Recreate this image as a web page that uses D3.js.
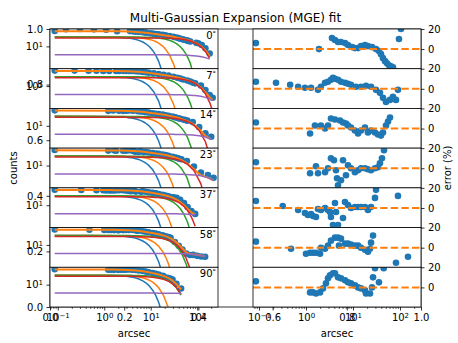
<!DOCTYPE html>
<html>
<head>
<meta charset="utf-8">
<script src="https://cdn.jsdelivr.net/npm/d3@7"></script>
<style>
  body { margin: 0; background: #fff; }
  text { font-family: "DejaVu Sans", sans-serif; }
</style>
</head>
<body>
<svg id="chart" width="458" height="343"></svg>
<script>
// sector angles (deg), one row of panels each
const sectorAngles = [0, 7, 14, 23, 37, 58, 90];

// radii (arcsec) of the measured points in each sector
const sectorRadii = [
  [0.086, 0.15, 0.3, 0.6, 1.1, 1.89, 3.57, 4.14, 4.80, 5.55, 6.76, 7.83, 9.52, 11.0, 12.8, 14.8, 18.0, 20.8, 25.4, 30.9, 35.7, 39.4, 43.5, 48.0, 52.9, 58.3, 64.4, 71.0, 95.2, 105, 125, 150, 185],
  [0.086, 0.23, 0.46, 0.68, 0.95, 1.28, 1.80, 2.08, 2.54, 2.94, 3.40, 3.75, 4.14, 4.80, 5.55, 6.76, 7.83, 9.06, 11.6, 14.8, 18.9, 24.2, 30.9, 37.5, 43.5, 50.4, 61.3, 71.0, 82.2, 90.6, 120, 150, 185, 215],
  [0.086, 1.22, 1.55, 2.08, 2.54, 2.94, 3.40, 4.14, 5.29, 6.13, 7.10, 7.83, 9.06, 11.0, 12.8, 14.8, 18.0, 20.8, 24.2, 29.4, 34.0, 39.4, 43.5, 50.4, 55.6, 61.3, 80, 110, 150, 200],
  [0.086, 1.22, 1.63, 1.80, 2.54, 2.94, 3.40, 3.94, 4.35, 4.57, 4.80, 5.55, 6.13, 7.10, 7.83, 9.06, 11.0, 12.8, 14.8, 18.0, 20.8, 24.2, 29.4, 34.0, 37.5, 41.4, 45.7, 60, 85, 120, 170, 225],
  [0.086, 0.32, 0.68, 0.95, 1.10, 1.28, 1.41, 1.63, 1.80, 2.08, 2.54, 2.94, 3.24, 3.40, 3.75, 4.14, 4.35, 4.80, 6.13, 6.76, 7.83, 9.06, 11.0, 12.8, 14.8, 18.0, 20.8, 24.2, 29.4, 30.9, 36, 43, 52, 62, 75, 90.6],
  [0.086, 0.48, 1.0, 1.22, 1.41, 1.63, 1.99, 2.08, 2.54, 2.94, 3.40, 4.14, 4.80, 5.03, 5.55, 6.76, 7.83, 9.06, 11.0, 12.8, 14.8, 18.0, 20.8, 23.0, 24.2, 26.7, 33, 40, 48, 58, 70, 82.2, 100, 122, 148],
  [0.086, 1.22, 1.41, 1.63, 1.99, 2.30, 2.66, 2.94, 3.24, 3.75, 4.14, 4.80, 5.55, 6.76, 7.83, 9.06, 11.0, 12.8, 14.8, 18.0, 18.9, 23.0, 25.4, 26.7, 29.4, 35.7, 45]
];

// fit error (%) of the same points
const sectorErr = [
  [6, 35, 40, 35, 30, 0, 11, 9, 7, 7, 6, 4, 2, 1, 1, 3, 4, 3, 2, 0, -2, -5, -9, -12, -14, -16, -17, -18, 10, 20, 35, 40, 40],
  [7, 6, 4, 2, 1, 1, -1, 2, 6, 7, 9, 11, 10, 9, 7, 6, 5, 4, 2, 2, 3, 2, -1, -4, -9, -13, -11, -8, -11, -1, 35, 40, 40, 40],
  [6, -5, 3, 3, 0, 3, 10, 9, 8, 6, 5, 3, 1, -2, -5, -2, 1, -4, -2, -4, -6, -7, -4, 3, 7, 11, 35, 40, 45, 45],
  [6, -5, 2, -5, -4, 0, 10, 8, -2, -10, -17, -12, 8, -7, 3, 0, -4, -2, 0, 0, -1, -2, 0, 1, 5, 10, 18, 40, 45, 45, 45, 45],
  [7, 2, -2, -5, -7, -6, -8, -9, -1, -2, 0, -2, -4, -9, -17, 5, -4, -17, -10, 6, 3, 0, 1, 1, 1, 1, -2, 1, 10, 18, 35, 40, 40, 35, 30, 12],
  [6, -1, -6, -5, -5, -5, -6, 0, -1, 2, 7, 10, 10, 2, 9, 4, 4, 3, 2, 2, 0, -2, -4, -1, 5, 12, -30, -35, -30, -35, -30, -15, -30, -30, -9],
  [6, -5, -5, -6, -5, -1, 4, 9, 12, 14, 14, 10, 9, 7, 5, 4, 2, 0, -1, -3, -6, -6, 0, 10, 19, 5, 19]
];

// Gaussian components of the fit: log10 peak counts, sigma (arcsec), axial ratio
const gaussLogPeak = [1.95, 1.95, 1.95, 1.85, 0.15];
const gaussSigma = [4.4, 8.75, 20.3, 60, 131];
const gaussQ = [0.95, 0.70, 0.73, 0.26, 0.95];

const frameTicks = [0, 0.2, 0.4, 0.6, 0.8, 1.0];
const errTicks = [0, 20];
const countTicks = [10];
const radiusTicks = [0.1, 1, 10, 100];

const colors = ["#1f77b4", "#ff7f0e", "#2ca02c", "#d62728", "#9467bd"];

const box = {top: 29, bottom: 307, left: 50, right: 421};
const leftCol = [50, 218], rightCol = [253, 421];
const rowH = (box.bottom - box.top) / sectorAngles.length;

const svg = d3.select("#chart");

const xL = d3.scaleLog().domain([0.068, 280]).range(leftCol);
const xR = d3.scaleLog().domain([0.0745, 280]).range(rightCol);

function gauss(k, r, ang) {
  const t = ang * Math.PI / 180;
  const c = Math.cos(t), s = Math.sin(t), q = gaussQ[k];
  const e = r * r * (c * c + s * s / (q * q)) / (2 * gaussSigma[k] * gaussSigma[k]);
  return Math.pow(10, gaussLogPeak[k]) * Math.exp(-e);
}

function styleAxis(g) {
  g.attr("font-family", "DejaVu Sans, sans-serif").attr("font-size", 10);
  g.select(".domain").remove();
  g.selectAll(".tick line").attr("stroke-width", 0.8);
}

function powLabels(g) {
  g.selectAll(".tick text").each(function(d) {
    const t = d3.select(this);
    const ex = Math.round(Math.log10(d));
    t.text(null);
    t.append("tspan").text("10");
    t.append("tspan").attr("dy", "-0.45em").attr("font-size", 7)
      .text(String(ex).replace("-", "\u2212"));
  });
}

// the big background axes
const bx = d3.scaleLinear().domain([0, 1]).range([box.left, box.right]);
const by = d3.scaleLinear().domain([0, 1]).range([box.bottom, box.top]);

svg.append("rect")
  .attr("x", box.left).attr("y", box.top)
  .attr("width", box.right - box.left).attr("height", box.bottom - box.top)
  .attr("fill", "#fff").attr("stroke", "#000").attr("stroke-width", 0.8);

svg.append("g")
  .attr("transform", "translate(0," + box.bottom + ")")
  .call(d3.axisBottom(bx).tickValues(frameTicks).tickFormat(d3.format(".1f")).tickSize(3.5).tickPadding(3.5))
  .call(styleAxis);

svg.append("g")
  .attr("transform", "translate(" + box.left + ",0)")
  .call(d3.axisLeft(by).tickValues(frameTicks).tickFormat(d3.format(".1f")).tickSize(3.5).tickPadding(3.5))
  .call(styleAxis);

sectorAngles.forEach((ang, j) => {
  const top = box.top + j * rowH, bot = top + rowH;
  const yL = d3.scaleLog().domain([Math.pow(10, -1.25), Math.pow(10, 2.75)]).range([bot, top]);
  const yR = d3.scaleLinear().domain([-19.5, 20]).range([bot, top]);

  const pts = sectorRadii[j].map((r, i) => {
    const comps = gaussLogPeak.map((_, k) => gauss(k, r, ang));
    const model = d3.sum(comps);
    const err = sectorErr[j][i];
    return {r: r, err: err, comps: comps, model: model, counts: model / (1 - err / 100)};
  });

  // ---- left panel: counts
  svg.append("clipPath").attr("id", "clipL" + j)
    .append("rect").attr("x", leftCol[0]).attr("y", top)
    .attr("width", leftCol[1] - leftCol[0]).attr("height", rowH);

  svg.append("rect")
    .attr("x", leftCol[0]).attr("y", top)
    .attr("width", leftCol[1] - leftCol[0]).attr("height", rowH)
    .attr("fill", "#fff");

  const gl = svg.append("g").attr("clip-path", "url(#clipL" + j + ")");

  gl.selectAll("circle").data(pts).join("circle")
    .attr("cx", d => xL(d.r)).attr("cy", d => yL(d.counts))
    .attr("r", 3.3).attr("fill", colors[0]);

  const lineL = d3.line().x(d => xL(d[0])).y(d => yL(Math.max(d[1], 1e-30)));

  gl.append("path")
    .attr("d", lineL(pts.map(d => [d.r, d.model])))
    .attr("fill", "none").attr("stroke", colors[1]).attr("stroke-width", 2);

  gaussLogPeak.forEach((_, k) => {
    gl.append("path")
      .attr("d", lineL(pts.map(d => [d.r, d.comps[k]])))
      .attr("fill", "none").attr("stroke", colors[k]).attr("stroke-width", 1.5);
  });

  svg.append("rect")
    .attr("x", leftCol[0]).attr("y", top)
    .attr("width", leftCol[1] - leftCol[0]).attr("height", rowH)
    .attr("fill", "none").attr("stroke", "#000").attr("stroke-width", 0.8);

  svg.append("g")
    .attr("transform", "translate(" + leftCol[0] + ",0)")
    .call(d3.axisLeft(yL).tickValues(countTicks).tickSize(3.5).tickPadding(3.5))
    .call(styleAxis)
    .call(powLabels);

  const lab = svg.append("text")
    .attr("x", leftCol[1] - 2).attr("y", top + 10)
    .attr("text-anchor", "end").attr("font-size", 10)
    .text(ang);
  lab.append("tspan").attr("font-size", 7).attr("dy", -3).text("\u00b0");

  // ---- right panel: error in percent
  svg.append("clipPath").attr("id", "clipR" + j)
    .append("rect").attr("x", rightCol[0]).attr("y", top)
    .attr("width", rightCol[1] - rightCol[0]).attr("height", rowH);

  svg.append("rect")
    .attr("x", rightCol[0]).attr("y", top)
    .attr("width", rightCol[1] - rightCol[0]).attr("height", rowH)
    .attr("fill", "#fff");

  const gr = svg.append("g").attr("clip-path", "url(#clipR" + j + ")");

  gr.selectAll("circle").data(pts).join("circle")
    .attr("cx", d => xR(d.r)).attr("cy", d => yR(d.err))
    .attr("r", 3.3).attr("fill", colors[0]);

  gr.append("line")
    .attr("x1", rightCol[0]).attr("x2", rightCol[1])
    .attr("y1", yR(0)).attr("y2", yR(0))
    .attr("stroke", colors[1]).attr("stroke-width", 2)
    .attr("stroke-dasharray", "7.4,3.2");

  svg.append("rect")
    .attr("x", rightCol[0]).attr("y", top)
    .attr("width", rightCol[1] - rightCol[0]).attr("height", rowH)
    .attr("fill", "none").attr("stroke", "#000").attr("stroke-width", 0.8);

  svg.append("g")
    .attr("transform", "translate(" + rightCol[1] + ",0)")
    .call(d3.axisRight(yR).tickValues(errTicks).tickFormat(d3.format("d")).tickSize(3.5).tickPadding(3.5))
    .call(styleAxis);
});

// radius axes under the bottom row
[[xL, leftCol], [xR, rightCol]].forEach(([x, col]) => {
  const minor = x.ticks().filter(v => !radiusTicks.includes(v));
  svg.append("g")
    .attr("transform", "translate(0," + box.bottom + ")")
    .call(d3.axisBottom(x).tickValues(minor).tickFormat("").tickSize(2))
    .call(styleAxis)
    .selectAll(".tick line").attr("stroke-width", 0.6);
  svg.append("g")
    .attr("transform", "translate(0," + box.bottom + ")")
    .call(d3.axisBottom(x).tickValues(radiusTicks).tickSize(3.5).tickPadding(3.5))
    .call(styleAxis)
    .call(powLabels);
  svg.append("text")
    .attr("x", (col[0] + col[1]) / 2).attr("y", 337)
    .attr("text-anchor", "middle").attr("font-size", 10)
    .text("arcsec");
});

svg.append("text")
  .attr("transform", "translate(17," + ((box.top + box.bottom) / 2) + ") rotate(-90)")
  .attr("text-anchor", "middle").attr("font-size", 10)
  .text("counts");

svg.append("text")
  .attr("transform", "translate(451," + ((box.top + box.bottom) / 2) + ") rotate(-90)")
  .attr("text-anchor", "middle").attr("font-size", 10)
  .text("error (%)");

svg.append("text")
  .attr("x", (box.left + box.right) / 2).attr("y", 22)
  .attr("text-anchor", "middle").attr("font-size", 12)
  .text("Multi-Gaussian Expansion (MGE) fit");
</script>
</body>
</html>
